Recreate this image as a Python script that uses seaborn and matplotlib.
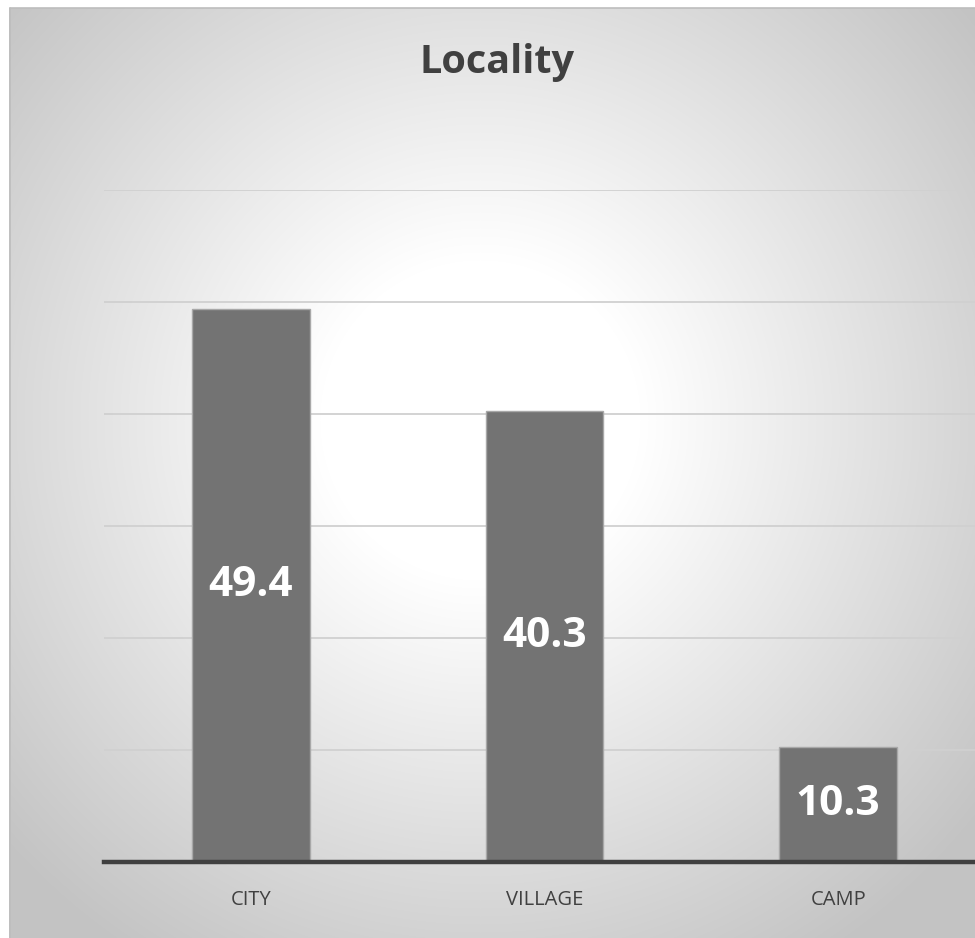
import numpy as np
import pandas as pd
import matplotlib
matplotlib.use("Agg")
import matplotlib.pyplot as plt
from matplotlib.lines import Line2D
import seaborn as sns

# Share of respondents by type of locality (%)
categories = ["CITY", "VILLAGE", "CAMP"]
values = [49.4, 40.3, 10.3]

W, H = 975, 938
sns.set_theme(style="white")
plt.rcParams["font.family"] = ["Open Sans", "DejaVu Sans"]

fig = plt.figure(figsize=(W / 100, H / 100), dpi=100, facecolor="#c6c6c6")

# Chart-area backdrop: soft radial grey-to-white fill, placed pixel for pixel
yy, xx = np.mgrid[0:H, 0:W]
cx, cy = 480, 420
d = np.sqrt((xx - cx) ** 2 + (yy - cy) ** 2)
shade = 255 - 0.125 * np.clip(d - 160, 0, None)
shade = np.clip(shade, 195, 255)
shade[:, :9] = 255
shade[:8, :] = 255
rgb = np.repeat((shade / 255.0)[:, :, None], 3, axis=2)
fig.figimage(rgb, xo=0, yo=0, origin="upper", zorder=0)

# Thin frame along the top and left edges of the chart area
fx, fy = 9.5 / W, 1 - 8.5 / H
fig.add_artist(Line2D([fx, fx], [0, fy], transform=fig.transFigure,
                      color="#bdbdbd", linewidth=1.2, zorder=1))
fig.add_artist(Line2D([fx, 1], [fy, fy], transform=fig.transFigure,
                      color="#bdbdbd", linewidth=1.2, zorder=1))

# Plot area
left, right = 104 / W, 985 / W
bottom, top = 1 - 862 / H, 1 - 190 / H
ax = fig.add_axes([left, bottom, right - left, top - bottom], zorder=2)
ax.set_facecolor("none")

df = pd.DataFrame({"Locality": categories, "Percent": values})
sns.barplot(data=df, x="Locality", y="Percent", color="#737373",
            saturation=1, width=0.4, edgecolor="#a8a8a8", linewidth=1.0,
            ax=ax, zorder=3)

ax.set_ylim(0, 60)
ax.set_xlim(-0.5, 2.5)
ax.set_yticks(np.arange(10, 61, 10))
ax.yaxis.grid(True, color="#d0d0d0", linewidth=1.3)
ax.set_axisbelow(True)
for s in ["left", "right", "top"]:
    ax.spines[s].set_visible(False)
ax.spines["bottom"].set_color("#404040")
ax.spines["bottom"].set_linewidth(3.2)
ax.spines["bottom"].set_zorder(4)
ax.tick_params(axis="y", left=False, labelleft=False)
ax.tick_params(axis="x", bottom=False, pad=14, labelsize=14.5,
               labelcolor="#404040")
ax.set_xlabel("")
ax.set_ylabel("")

for cont in ax.containers:
    ax.bar_label(cont, labels=[f"{v:.1f}" for v in values],
                 label_type="center", color="white", fontsize=30.5,
                 fontweight="bold")

fig.text(497 / W, 1 - 62 / H, "Locality", ha="center", va="center",
         fontsize=28.5, fontweight="bold", color="#404040")

fig.savefig("out.png", dpi=100, facecolor=fig.get_facecolor())
